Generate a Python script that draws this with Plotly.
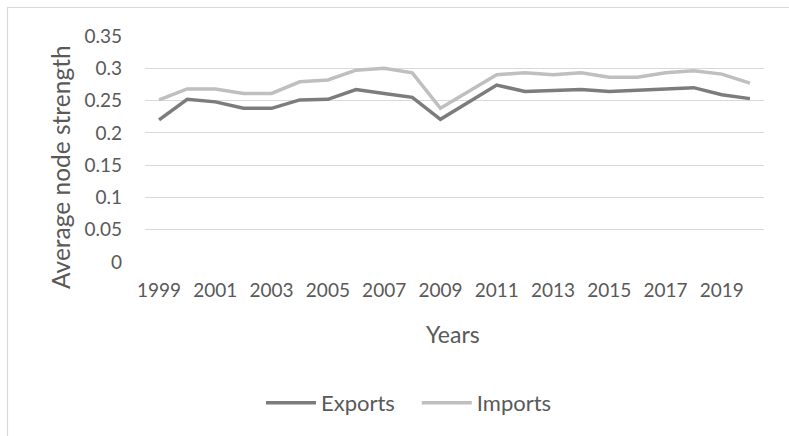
import plotly.graph_objects as go

years = list(range(1999, 2021))
exports = [0.220, 0.252, 0.248, 0.238, 0.238, 0.251, 0.252, 0.267, 0.261, 0.255, 0.221,
           0.248, 0.274, 0.264, 0.266, 0.267, 0.264, 0.266, 0.267, 0.270, 0.259, 0.253]
imports = [0.251, 0.268, 0.268, 0.261, 0.261, 0.279, 0.282, 0.297, 0.300, 0.293, 0.238,
           0.264, 0.290, 0.293, 0.290, 0.293, 0.286, 0.286, 0.293, 0.296, 0.291, 0.277]
y_ticks = [0, 0.05, 0.1, 0.15, 0.2, 0.25, 0.3, 0.35]
y_tick_labels = ["0", "0.05", "0.1", "0.15", "0.2", "0.25", "0.3", "0.35"]
x_ticks = list(range(1999, 2020, 2))

W, H = 789, 436
L, R, T, B = 145, 25, 36, 174
pw, ph = W - L - R, H - T - B

def px(xp):
    return (xp - L) / pw

def py(yp):
    return 1 - (yp - T) / ph

FONT = "Lato, 'Open Sans', sans-serif"
TXT = "#595959"

fig = go.Figure()
fig.add_trace(go.Scatter(x=years, y=exports, mode="lines", name="Exports\u00a0\u00a0\u00a0",
                         line=dict(color="#7c7c7c", width=3.5)))
fig.add_trace(go.Scatter(x=years, y=imports, mode="lines", name="Imports",
                         line=dict(color="#bfbfbf", width=3.5)))

fig.update_layout(
    width=W, height=H,
    margin=dict(l=L, r=R, t=T, b=B),
    paper_bgcolor="white", plot_bgcolor="white",
    font=dict(family=FONT, size=19, color=TXT),
    showlegend=True,
    legend=dict(orientation="h", x=px(409), xanchor="center", y=py(403), yanchor="middle",
                font=dict(size=22, color=TXT), itemwidth=50, bgcolor="rgba(0,0,0,0)"),
    xaxis=dict(range=[1998.5, 2020.5], tickvals=x_ticks, ticktext=[str(v) for v in x_ticks],
               showgrid=False, zeroline=False, showline=False, ticks="",
               ticklabelstandoff=15),
    yaxis=dict(range=[0, 0.35], tickvals=y_ticks, ticktext=y_tick_labels,
               showgrid=True, gridcolor="#d9d9d9", gridwidth=1.3, zeroline=False,
               showline=False, ticks="", ticklabelstandoff=22),
    shapes=[dict(type="rect", xref="paper", yref="paper",
                 x0=px(7.5), x1=px(800), y0=py(7.5), y1=py(445),
                 line=dict(color="#d9d9d9", width=1.2), fillcolor="rgba(0,0,0,0)", layer="below")],
    annotations=[
        dict(text="Average node strength", xref="paper", yref="paper",
             x=px(60), y=py(167), textangle=-90, showarrow=False,
             xanchor="center", yanchor="middle",
             font=dict(size=24.5, color=TXT, family=FONT)),
        dict(text="Years", xref="paper", yref="paper",
             x=px(453), y=py(334), showarrow=False,
             xanchor="center", yanchor="middle",
             font=dict(size=23, color=TXT, family=FONT)),
    ],
)

fig.write_html("out.html")
